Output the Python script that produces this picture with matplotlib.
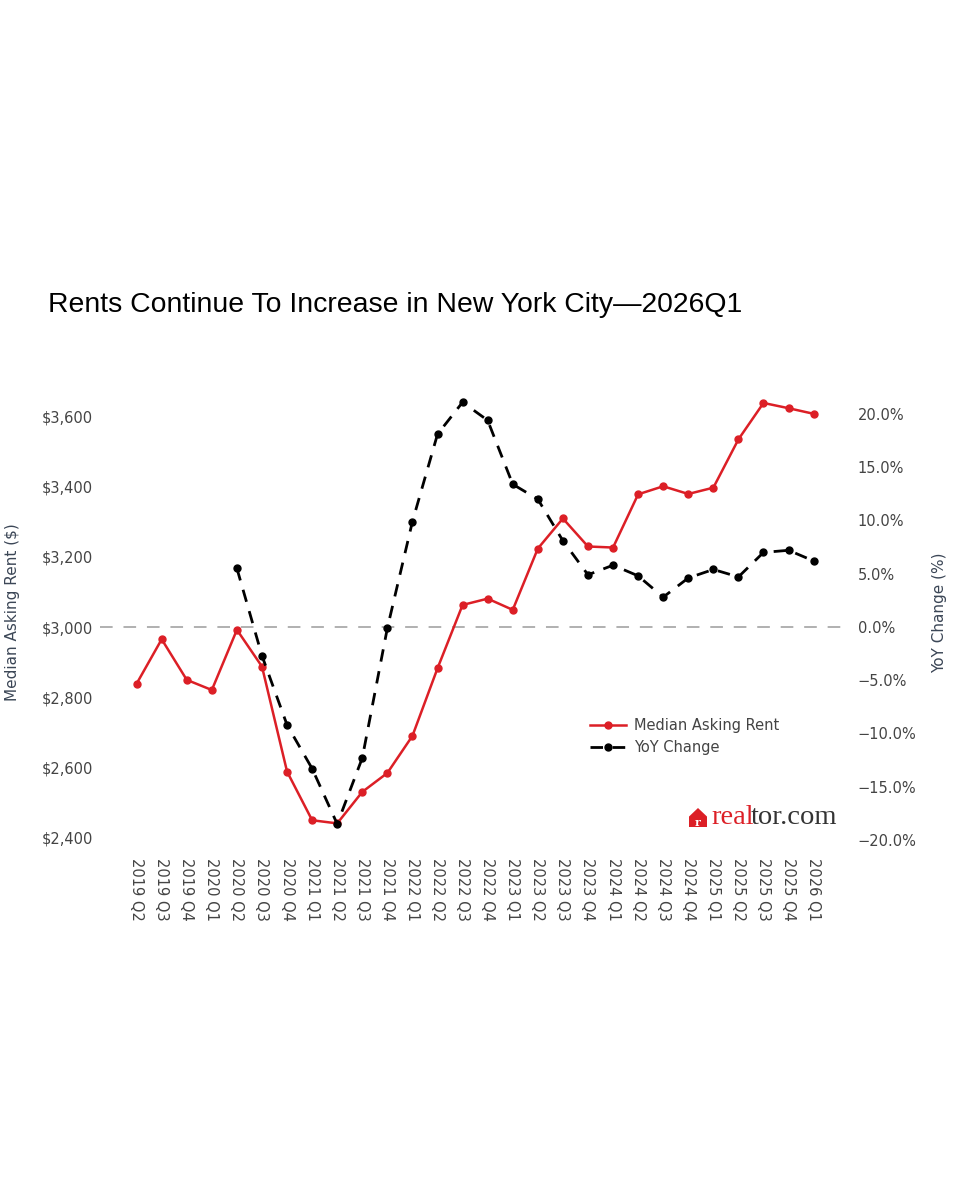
import matplotlib.pyplot as plt
import matplotlib.patches as mpatches
import matplotlib.ticker as mticker
import numpy as np

plt.rcParams['font.family'] = ['DejaVu Sans']

# data
quarters = ['2019 Q2', '2019 Q3', '2019 Q4', '2020 Q1', '2020 Q2', '2020 Q3', '2020 Q4',
            '2021 Q1', '2021 Q2', '2021 Q3', '2021 Q4', '2022 Q1', '2022 Q2', '2022 Q3',
            '2022 Q4', '2023 Q1', '2023 Q2', '2023 Q3', '2023 Q4', '2024 Q1', '2024 Q2',
            '2024 Q3', '2024 Q4', '2025 Q1', '2025 Q2', '2025 Q3', '2025 Q4', '2026 Q1']
rent = [2838, 2965, 2849, 2820, 2992, 2887, 2587, 2448, 2439, 2529, 2583, 2689, 2882, 3063,
        3081, 3049, 3224, 3310, 3230, 3227, 3379, 3402, 3380, 3398, 3536, 3640, 3625, 3609]
yoy = [np.nan, np.nan, np.nan, np.nan, 5.5, -2.7, -9.2, -13.3, -18.5, -12.3, -0.1, 9.9, 18.1, 21.1,
       19.4, 13.4, 12.0, 8.1, 4.9, 5.8, 4.8, 2.8, 4.6, 5.4, 4.7, 7.0, 7.2, 6.2]

rent_ticks = [2400, 2600, 2800, 3000, 3200, 3400, 3600]
yoy_ticks = [-20, -15, -10, -5, 0, 5, 10, 15, 20]

red = '#dc1f26'
txt = '#444444'
ttl = '#3b4656'

W, H = 960, 1200
fig = plt.figure(figsize=(W / 100, H / 100), dpi=100)
fig.patch.set_facecolor('white')

ax = fig.add_axes([100 / W, 1 - 850 / H, 748 / W, 460 / H])
ax2 = ax.twinx()

x = np.arange(len(quarters))

ax.axhline(3000, color='#aaaaaa', lw=1.3, ls=(0, (7, 6)), zorder=1)
l1, = ax.plot(x, rent, color=red, lw=1.8, marker='o', markersize=5, label='Median Asking Rent', zorder=3)
l2, = ax2.plot(x, yoy, color='black', lw=2.0, ls=(0, (4.5, 3.5)), marker='o', markersize=5,
               label='YoY Change', zorder=3)

ax.set_xlim(-1.46, 28.37)
ax.set_ylim(2363, 3677)
ax2.set_ylim(-20.94, 22.25)

ax.set_xticks(x)
ax.set_xticklabels(quarters, rotation=-90, fontsize=10.5, color=txt)
ax.set_yticks(rent_ticks)
ax.yaxis.set_major_formatter(mticker.FuncFormatter(lambda v, p: '${:,.0f}'.format(v)))
ax2.set_yticks(yoy_ticks)
ax2.yaxis.set_major_formatter(mticker.FuncFormatter(lambda v, p: '{:.1f}%'.format(v).replace('-', '\u2212')))

ax.tick_params(axis='x', length=0, pad=6)
ax.tick_params(axis='y', length=0, pad=5, labelsize=10.5, labelcolor=txt)
ax2.tick_params(axis='y', length=0, pad=7, labelsize=10.5, labelcolor=txt)
for a in (ax, ax2):
    for s in a.spines.values():
        s.set_visible(False)
ax.patch.set_visible(False)

fig.text(48 / W, 1 - 305 / H, 'Rents Continue To Increase in New York City\u20142026Q1',
         fontsize=20.4, family='Liberation Sans', color='black', va='center', ha='left')
fig.text(13 / W, 1 - 612 / H, 'Median Asking Rent ($)', rotation=90, fontsize=11,
         color=ttl, va='center', ha='center')
fig.text(940 / W, 1 - 613 / H, 'YoY Change (%)', rotation=90, fontsize=11,
         color=ttl, va='center', ha='center')

leg = ax2.legend(handles=[l1, l2], loc='upper left', bbox_to_anchor=(590 / W, 1 - 718 / H),
                 bbox_transform=fig.transFigure, frameon=False, fontsize=10.5, handlelength=2.5,
                 handletextpad=0.55, labelspacing=0.5, borderpad=0, borderaxespad=0)
for t in leg.get_texts():
    t.set_color(txt)

# realtor.com logo
hx, hy, hw, hh = 689, 827, 18, 19
house = [(hx, hy), (hx + hw, hy), (hx + hw, hy - hh * 0.55), (hx + hw / 2, hy - hh),
         (hx, hy - hh * 0.55)]
fig.patches.append(mpatches.Polygon([(px / W, 1 - py / H) for px, py in house], closed=True,
                                    transform=fig.transFigure, facecolor=red, edgecolor='none'))
fig.text((hx + hw / 2) / W, 1 - (hy - 5) / H, 'r', fontsize=8, fontweight='bold',
         color='white', ha='center', va='center', family='DejaVu Serif')
t1 = fig.text(711 / W, 1 - 818 / H, 'real', fontsize=20.5, family='Liberation Serif',
              color=red, ha='left', va='center')
fig.canvas.draw()
bb = t1.get_window_extent(fig.canvas.get_renderer())
fig.text((bb.x1 - 3) / W, 1 - 818 / H, 'tor.com', fontsize=20.5, family='Liberation Serif',
         color='#333333', ha='left', va='center')

fig.savefig('out.png', dpi=100, facecolor='white')
